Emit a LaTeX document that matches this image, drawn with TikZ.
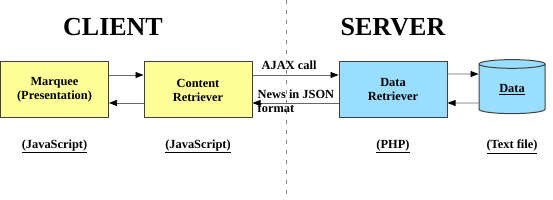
\documentclass[tikz,border=0pt]{standalone}
\usepackage{fontspec}
\setmainfont{Liberation Serif}
\usetikzlibrary{arrows.meta, positioning, shapes.geometric}
\definecolor{corAmarelo}{RGB}{255,255,153}
\definecolor{corAzul}{RGB}{153,221,255}
\definecolor{corBorda}{RGB}{64,64,64}

\begin{document}
\begin{tikzpicture}[x=1pt, y=1pt, every node/.style={font=\bfseries\fontsize{12.4}{14}\selectfont}]
    \tikzstyle{modulo}=[rectangle, draw=corBorda, line width=1pt, minimum width=108pt,
      minimum height=56pt, align=center, inner sep=2pt]
    \tikzstyle{seta}=[draw=gray!80!black, line width=0.7pt,
      -{Triangle[length=8pt, width=6pt, color=black]}]
    \tikzstyle{titulo}=[font=\bfseries\fontsize{26}{30}\selectfont]
    \tikzstyle{rotulo}=[inner sep=0pt, align=left]
    \useasboundingbox (0,0) rectangle (553,200);
    \draw[gray, line width=0.6pt, dash pattern=on 4pt off 6pt] (286,200) -- (286,0);
    \node[titulo] (client) at (113,173) {CLIENT};
    \node[titulo] (server) at (393,173) {SERVER};
    \node[modulo, fill=corAmarelo] (marquee) at (54.5,110) {Marquee\\(Presentation)};
    \node[modulo, fill=corAmarelo] (content) at (198,110) {Content\\Retriever};
    \node[modulo, fill=corAzul] (retriever) at (393,110) {Data\\Retriever};
    \node[cylinder, shape border rotate=90, shape aspect=0.27, draw=corBorda, line width=1pt,
      fill=corAzul, minimum width=66pt, minimum height=54pt] (data) at (512,110)
      {\raisebox{-4pt}{\underline{Data}}};
    \draw[seta] ([yshift=15pt]marquee.east) -- ([yshift=15pt]content.west);
    \draw[seta] ([yshift=-13pt]content.west) -- ([yshift=-13pt]marquee.east);
    \draw[seta] ([yshift=15pt]content.east) -- ([yshift=15pt]retriever.west);
    \draw[seta] ([yshift=-13pt]retriever.west) -- ([yshift=-13pt]content.east);
    \draw[seta] ([yshift=16pt]retriever.east) -- ([yshift=16pt]data.west);
    \draw[seta] ([yshift=-13pt]data.west) -- ([yshift=-13pt]retriever.east);
    \node[rotulo, anchor=base west] (ajax) at ([xshift=9pt, yshift=20pt]content.east) {AJAX call};
    \node[rotulo, anchor=west] (json) at ([xshift=5pt, yshift=-11pt]content.east) {News in JSON\\format};
    \node[below=18pt of marquee] (jsMarquee) {\underline{(JavaScript)}};
    \node[below=18pt of content] (jsContent) {\underline{(JavaScript)}};
    \node (php) at (retriever |- jsMarquee) {\underline{(PHP)}};
    \node (textfile) at (data |- jsMarquee) {\underline{(Text file)}};
  \end{tikzpicture}
\end{document}
